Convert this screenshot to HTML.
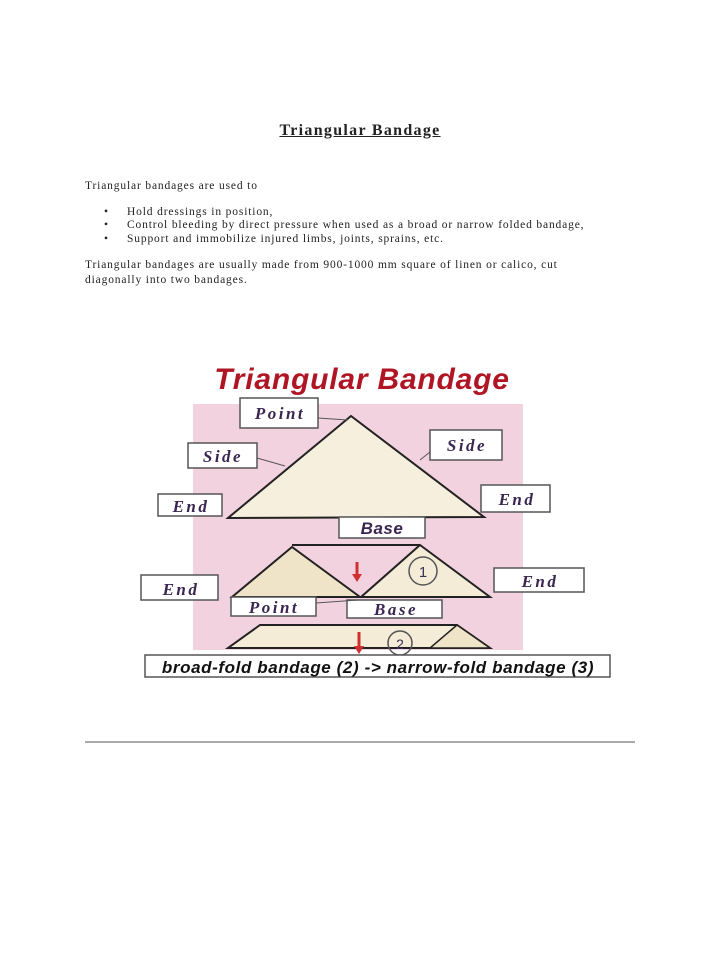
<!DOCTYPE html>
<html><head><meta charset="utf-8"><style>
body{margin:0;background:#fff;width:720px;height:960px;position:relative;overflow:hidden;font-family:"Liberation Serif",serif;color:#222}
.t{position:absolute;font-size:11.5px;letter-spacing:0.85px;white-space:nowrap}
</style></head><body>
<div class="t" style="left:268px;top:122px;font-size:16px;letter-spacing:1.3px;font-weight:bold;text-decoration:underline;width:184px;text-align:center">Triangular Bandage</div>
<div class="t" style="left:85px;top:180px">Triangular bandages are used to</div>
<div class="t" style="left:104px;top:206px">•</div><div class="t" style="left:127px;top:206px">Hold dressings in position,</div>
<div class="t" style="left:104px;top:219px">•</div><div class="t" style="left:127px;top:219px">Control bleeding by direct pressure when used as a broad or narrow folded bandage,</div>
<div class="t" style="left:104px;top:233px">•</div><div class="t" style="left:127px;top:233px">Support and immobilize injured limbs, joints, sprains, etc.</div>
<div class="t" style="left:85px;top:259px">Triangular bandages are usually made from 900-1000 mm square of linen or calico, cut</div>
<div class="t" style="left:85px;top:274px">diagonally into two bandages.</div>
<svg width="720" height="960" style="position:absolute;left:0;top:0" font-family="Liberation Serif,serif">
<rect x="193" y="404" width="330" height="246" fill="#f2d2de"/>
<text x="362" y="389" text-anchor="middle" font-family="Liberation Sans,sans-serif" font-weight="bold" font-style="italic" font-size="30" letter-spacing="0.8" fill="#b01525">Triangular Bandage</text>
<polygon points="351,416 228,518 484,517" fill="#f7efdd" stroke="#222" stroke-width="2"/>
<line x1="292" y1="545" x2="420" y2="545" stroke="#222" stroke-width="2"/>
<polygon points="292,547 232,597 360,597" fill="#efe3c8" stroke="#222" stroke-width="2"/>
<polygon points="420,545 361,597 490,597" fill="#f5ecd8" stroke="#222" stroke-width="2"/>
<line x1="232" y1="597" x2="490" y2="597" stroke="#222" stroke-width="2"/>
<polygon points="260,625 457,625 490,648 228,648" fill="#f5ecd8" stroke="#222" stroke-width="2"/>
<polygon points="457,625 430,648 490,648" fill="#efe3c8" stroke="#222" stroke-width="1.5"/>
<path d="M357 562 V576" stroke="#d03030" stroke-width="3"/><polygon points="352,574 362,574 357,582" fill="#d03030"/>
<path d="M359 632 V648" stroke="#d03030" stroke-width="3"/><polygon points="354,646 364,646 359,654" fill="#d03030"/>
<circle cx="423" cy="571" r="14" fill="none" stroke="#555" stroke-width="1.5"/><text x="423" y="577" text-anchor="middle" font-family="Liberation Sans,sans-serif" font-size="15" fill="#335">1</text>
<circle cx="400" cy="643" r="12" fill="none" stroke="#555" stroke-width="1.5"/><text x="400" y="649" text-anchor="middle" font-family="Liberation Sans,sans-serif" font-size="14" fill="#335">2</text>
<g fill="#fff" stroke="#555" stroke-width="1.5">
<rect x="240" y="398" width="78" height="30"/><rect x="188" y="443" width="69" height="25"/>
<rect x="430" y="430" width="72" height="30"/><rect x="158" y="494" width="64" height="22"/>
<rect x="481" y="485" width="69" height="27"/><rect x="339" y="517" width="86" height="21"/>
<rect x="141" y="575" width="77" height="25"/><rect x="494" y="568" width="90" height="24"/>
<rect x="231" y="597" width="85" height="19"/><rect x="347" y="600" width="95" height="18"/>
<rect x="145" y="655" width="465" height="22"/>
</g>
<g stroke="#555" stroke-width="1"><line x1="318" y1="418" x2="348" y2="420"/><line x1="257" y1="458" x2="285" y2="466"/><line x1="430" y1="452" x2="420" y2="460"/><line x1="316" y1="603" x2="358" y2="600"/></g>
<g font-weight="bold" font-style="italic" fill="#3a2650" font-size="17" text-anchor="middle" letter-spacing="2.5">
<text x="280" y="419">Point</text><text x="223" y="462">Side</text><text x="467" y="451">Side</text>
<text x="191" y="512">End</text><text x="517" y="505">End</text><text x="382" y="534" font-family="Liberation Sans,sans-serif" letter-spacing="0.5">Base</text>
<text x="181" y="595">End</text><text x="540" y="587">End</text><text x="274" y="613">Point</text><text x="396" y="615">Base</text>
</g>
<text x="378" y="673" text-anchor="middle" font-family="Liberation Sans,sans-serif" font-weight="bold" font-style="italic" font-size="17" letter-spacing="0.6" fill="#111">broad-fold bandage (2) -&gt;  narrow-fold bandage (3)</text>
<line x1="85" y1="742" x2="635" y2="742" stroke="#aaa" stroke-width="2"/>
</svg>
</body></html>
